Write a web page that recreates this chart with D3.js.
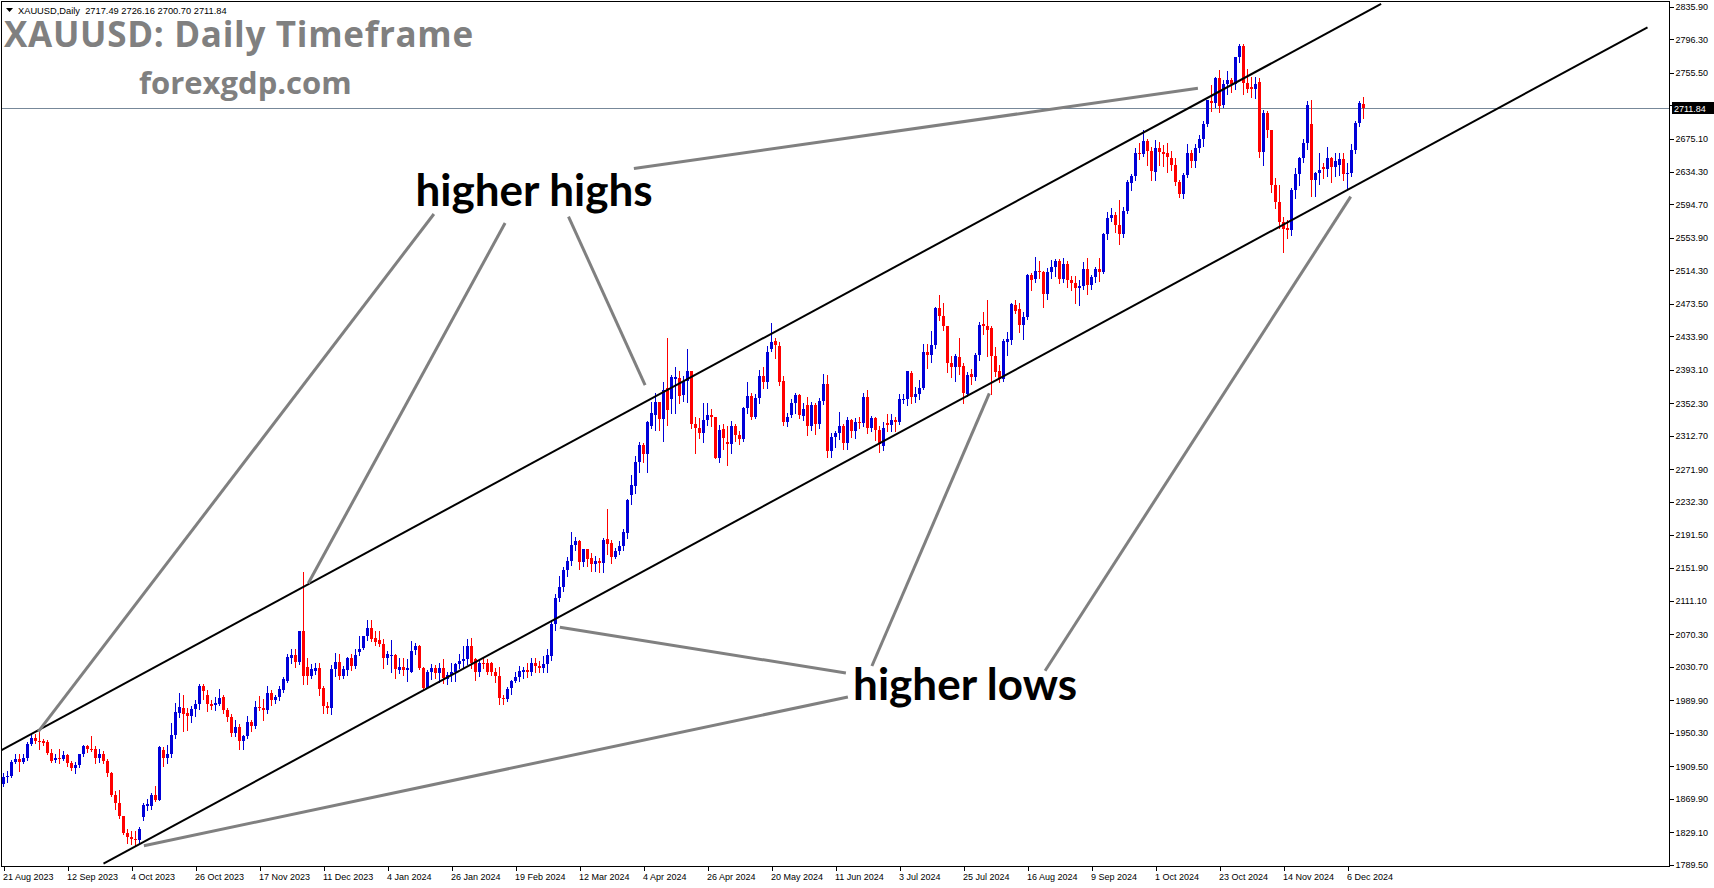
<!DOCTYPE html>
<html><head><meta charset="utf-8">
<script src="https://cdn.jsdelivr.net/npm/d3@7"></script>
<style>
html,body{margin:0;padding:0;background:#fff;overflow:hidden;}
svg{display:block;}
</style></head><body>
<svg id="chart" width="1714" height="888"></svg>
<script>
// ---- data (daily XAUUSD bars, 21 Aug 2023 .. 12 Dec 2024) ----
const opens = [
1888,1896,1898,1915,1918,1915,1920,1937,1944,1940,
1940,1939,1926,1917,1920,1919,1923,1913,1908,1911,
1924,1934,1931,1930,1920,1925,1916,1901,1875,1865,
1849,1828,1823,1821,1820,1848,1861,1861,1875,1869,
1929,1920,1924,1948,1975,1981,1974,1971,1979,1985,
2007,1996,1985,1984,1986,1994,1978,1970,1950,1958,
1940,1946,1964,1959,1982,1981,1978,1999,1990,1994,
2003,2014,2042,2045,2037,2075,2031,2020,2026,2029,
2005,1983,1980,2028,2037,2020,2027,2041,2032,2049,
2054,2068,2078,2066,2063,2059,2042,2044,2045,2027,
2031,2027,2025,2051,2056,2029,2005,2024,2030,2023,
2029,2016,2021,2024,2034,2038,2040,2056,2040,2024,
2035,2036,2035,2025,2020,1993,1992,2005,2014,2018,
2025,2027,2025,2036,2032,2030,2034,2044,2083,2115,
2128,2149,2160,2180,2184,2159,2174,2163,2156,2160,
2157,2187,2182,2165,2172,2178,2194,2240,2251,2281,
2301,2290,2325,2338,2354,2333,2371,2357,2382,2383,
2362,2380,2391,2327,2322,2316,2332,2338,2335,2286,
2321,2305,2302,2324,2314,2309,2347,2361,2336,2359,
2386,2378,2419,2428,2422,2380,2329,2338,2352,2362,
2337,2350,2325,2350,2327,2355,2376,2294,2311,2316,
2324,2304,2332,2319,2329,2328,2360,2322,2334,2320,
2300,2328,2326,2332,2329,2356,2357,2389,2360,2364,
2371,2415,2411,2423,2469,2459,2446,2401,2397,2409,
2398,2364,2388,2384,2411,2449,2446,2444,2410,2392,
2382,2427,2429,2472,2467,2448,2458,2509,2504,2514,
2512,2485,2512,2518,2526,2504,2522,2503,2499,2493,
2495,2516,2497,2506,2516,2512,2559,2578,2582,2570,
2559,2587,2621,2629,2657,2656,2672,2660,2634,2663,
2659,2657,2651,2643,2622,2608,2631,2657,2648,2663,
2674,2693,2721,2719,2749,2716,2742,2747,2742,2774,
2788,2743,2738,2736,2744,2659,2706,2685,2619,2598,
2573,2566,2563,2612,2632,2651,2670,2693,2625,2633,
2640,2638,2651,2640,2643,2650,2632,2633,2661,2694,
2717.49];
const highs = [
1901,1904,1917,1924,1924,1925,1939,1949,1949,1953,
1943,1942,1930,1924,1930,1928,1925,1916,1915,1925,
1936,1936,1947,1934,1931,1928,1918,1903,1879,1880,
1849,1833,1830,1831,1836,1865,1870,1877,1886,1934,
1933,1935,1962,1987,1999,1997,1981,1983,1990,2010,
2010,2002,1990,1994,2004,1997,1980,1973,1966,1961,
1948,1971,1966,1989,1995,1992,2007,2002,1997,2008,
2018,2047,2052,2052,2075,2146,2042,2034,2036,2036,
2008,1988,2033,2048,2046,2032,2043,2046,2053,2069,
2069,2088,2088,2074,2074,2065,2050,2064,2047,2041,
2042,2040,2062,2060,2058,2031,2027,2034,2033,2035,
2040,2025,2035,2035,2047,2056,2065,2066,2041,2040,
2043,2040,2037,2029,2031,1997,2006,2015,2024,2032,
2031,2035,2041,2041,2038,2044,2052,2088,2120,2141,
2152,2165,2195,2189,2185,2175,2175,2170,2166,2164,
2188,2223,2186,2176,2184,2199,2236,2265,2288,2305,
2304,2331,2354,2365,2354,2378,2432,2387,2397,2392,
2385,2418,2392,2335,2334,2352,2352,2345,2336,2326,
2327,2325,2331,2327,2318,2348,2378,2365,2363,2393,
2397,2422,2450,2432,2427,2385,2340,2358,2365,2363,
2353,2360,2354,2353,2359,2388,2387,2316,2318,2342,
2327,2335,2333,2334,2335,2365,2368,2337,2336,2324,
2330,2339,2339,2335,2364,2364,2392,2392,2372,2381,
2425,2424,2440,2470,2484,2475,2447,2410,2412,2432,
2401,2390,2394,2413,2451,2463,2478,2446,2421,2399,
2431,2439,2475,2478,2474,2464,2510,2511,2531,2526,
2514,2517,2527,2528,2528,2529,2526,2507,2507,2503,
2524,2529,2509,2518,2529,2560,2585,2590,2585,2600,
2592,2625,2632,2664,2670,2685,2674,2665,2673,2671,
2667,2670,2660,2651,2624,2633,2668,2661,2668,2680,
2697,2722,2741,2750,2759,2747,2758,2749,2774,2790,
2790,2760,2750,2750,2749,2710,2709,2686,2627,2619,
2580,2576,2615,2639,2652,2674,2721,2722,2634,2657,
2645,2665,2652,2657,2657,2657,2645,2668,2697,2721,
2726.16];
const lows = [
1885,1890,1896,1913,1904,1913,1917,1935,1938,1930,
1936,1925,1915,1915,1914,1917,1910,1905,1901,1909,
1922,1927,1928,1914,1915,1913,1898,1873,1857,1846,
1827,1816,1815,1813,1815,1844,1856,1857,1867,1868,
1910,1913,1921,1944,1970,1953,1954,1963,1971,1979,
1992,1977,1979,1978,1984,1975,1965,1946,1947,1931,
1931,1944,1953,1956,1978,1966,1975,1984,1987,1990,
2000,2012,2035,2031,2034,2010,2010,2017,2022,1996,
1975,1975,1973,2020,2016,2017,2021,2027,2030,2045,
2052,2064,2062,2058,2056,2030,2034,2024,2017,2023,
2021,2014,2025,2047,2028,2002,2005,2016,2017,2012,
2011,2010,2013,2013,2029,2030,2034,2030,2015,2020,
2029,2022,2021,2012,1986,1985,1989,1998,2012,2013,
2017,2019,2021,2025,2025,2024,2025,2039,2076,2111,
2123,2142,2155,2173,2150,2154,2154,2148,2148,2146,
2146,2168,2157,2163,2169,2173,2188,2230,2243,2268,
2281,2268,2322,2320,2320,2306,2326,2340,2340,2353,
2355,2354,2322,2291,2310,2305,2326,2324,2285,2281,
2296,2277,2291,2306,2303,2306,2340,2333,2334,2353,
2371,2371,2416,2407,2374,2326,2324,2335,2340,2334,
2332,2314,2320,2315,2322,2351,2287,2287,2299,2309,
2296,2297,2311,2310,2322,2325,2316,2318,2308,2293,
2295,2319,2318,2319,2327,2353,2350,2353,2354,2358,
2370,2395,2402,2420,2454,2441,2390,2384,2379,2388,
2353,2361,2376,2381,2405,2437,2410,2364,2386,2378,
2380,2411,2424,2462,2439,2431,2455,2490,2500,2505,
2470,2480,2505,2507,2499,2500,2494,2491,2474,2472,
2492,2485,2492,2500,2501,2511,2553,2574,2561,2546,
2555,2584,2612,2625,2650,2654,2643,2625,2625,2643,
2642,2634,2637,2618,2604,2603,2628,2641,2640,2659,
2666,2690,2709,2714,2708,2713,2729,2732,2735,2769,
2730,2732,2726,2725,2652,2643,2677,2610,2590,2566,
2537,2554,2558,2602,2618,2647,2662,2605,2605,2620,
2627,2630,2622,2630,2631,2624,2614,2630,2658,2691,
2700.70];
const closes = [
1896,1898,1915,1918,1915,1920,1937,1944,1940,1939,
1938,1926,1916,1920,1919,1923,1913,1908,1911,1924,
1934,1931,1930,1920,1925,1916,1901,1875,1865,1849,
1828,1823,1821,1820,1833,1862,1863,1874,1869,1933,
1920,1924,1948,1976,1982,1973,1971,1979,1986,2007,
2001,1985,1983,1987,1993,1978,1970,1950,1958,1940,
1946,1964,1959,1982,1981,1978,1999,1990,1994,2004,
2016,2043,2045,2037,2074,2020,2020,2028,2029,2004,
1983,1980,2028,2037,2020,2028,2041,2032,2045,2053,
2068,2078,2065,2061,2059,2041,2046,2045,2028,2031,
2027,2029,2050,2056,2029,2005,2024,2030,2023,2029,
2017,2021,2025,2034,2038,2040,2056,2035,2024,2035,
2034,2024,2025,2020,1993,1992,2004,2014,2019,2026,
2027,2025,2036,2032,2030,2034,2045,2083,2115,2128,
2149,2160,2179,2184,2159,2174,2162,2156,2160,2157,
2186,2181,2165,2172,2178,2195,2234,2252,2281,2301,
2290,2330,2340,2354,2333,2369,2344,2384,2384,2361,
2380,2392,2327,2322,2316,2332,2338,2335,2286,2320,
2310,2302,2324,2314,2309,2347,2361,2336,2359,2386,
2378,2415,2427,2423,2378,2329,2335,2352,2362,2338,
2345,2325,2350,2327,2355,2376,2294,2311,2316,2324,
2304,2332,2319,2329,2328,2360,2322,2334,2320,2303,
2322,2326,2332,2329,2357,2357,2391,2360,2364,2371,
2415,2411,2423,2469,2459,2446,2401,2396,2410,2397,
2365,2387,2384,2411,2448,2446,2442,2410,2390,2382,
2428,2431,2473,2465,2448,2458,2509,2503,2514,2512,
2485,2512,2518,2526,2504,2522,2503,2499,2493,2495,
2516,2497,2506,2516,2512,2559,2578,2582,2570,2559,
2587,2622,2629,2657,2656,2672,2660,2635,2663,2659,
2656,2653,2643,2622,2608,2631,2657,2648,2663,2674,
2693,2722,2719,2749,2715,2742,2747,2742,2774,2788,
2743,2736,2736,2742,2659,2706,2685,2619,2598,2573,
2565,2563,2612,2632,2651,2670,2716,2625,2633,2637,
2638,2651,2640,2648,2650,2632,2633,2661,2694,2718,
2711.84];

// time axis: bar index of each label and its text
const xTickIndex = [0,16,32,48,64,80,96,112,128,144,160,176,192,208,224,240,256,272,288,304,320,336];
const xTickLabels = ["21 Aug 2023","12 Sep 2023","4 Oct 2023","26 Oct 2023","17 Nov 2023","11 Dec 2023",
  "4 Jan 2024","26 Jan 2024","19 Feb 2024","12 Mar 2024","4 Apr 2024","26 Apr 2024","20 May 2024",
  "11 Jun 2024","3 Jul 2024","25 Jul 2024","16 Aug 2024","9 Sep 2024","1 Oct 2024","23 Oct 2024",
  "14 Nov 2024","6 Dec 2024"];
// price axis
const yTickValues = [2835.90,2796.30,2755.50,2715.90,2675.10,2634.30,2594.70,2553.90,2514.30,2473.50,
  2433.90,2393.10,2352.30,2312.70,2271.90,2232.30,2191.50,2151.90,2111.10,2070.30,2030.70,1989.90,
  1950.30,1909.50,1869.90,1829.10,1789.50];
const priceDomain = [1789.50, 2835.90];

// channel trend lines: [bar index, price]
const channelUpper = [[-0.9, 1928.2], [344.4, 2839.2]];
const channelLower = [[25.0, 1790.8], [411.0, 2810.8]];
// grey pointer lines from labels to swing points: [bar index, price]
const pointerLines = [
  [[107.6, 2583.1], [8.7, 1951.7]],
  [[125.4, 2572.1], [76.2, 2132.7]],
  [[141.25, 2580.0], [160.4, 2374.5]],
  [[157.6, 2638.6], [298.6, 2736.4]],
  [[211.1, 1994.0], [35.1, 1812.7]],
  [[210.6, 2023.3], [139.1, 2079.0]],
  [[217.1, 2031.8], [246.45, 2364.4]],
  [[260.4, 2026.1], [336.8, 2604.2]]
];
const annotationTexts = ["higher highs", "higher lows"];
const annotationAnchors = [[103.0, 2593.2], [212.4, 1990.4]];

// ---- drawing ----
const W = 1714, H = 888;
const plotLeft = 2, plotRight = 1669, plotTop = 2, plotBottom = 866;
const N = closes.length;
const svg = d3.select("#chart");

const x = d3.scaleLinear().domain([0, N - 1]).range([3.5, 3.5 + 4 * (N - 1)]);
const y = d3.scaleLinear().domain(priceDomain).range([864.7, 6.7]);

svg.append("rect").attr("width", W).attr("height", H).attr("fill", "#fff");

svg.append("defs").append("clipPath").attr("id", "plotclip")
  .append("rect").attr("x", plotLeft).attr("y", plotTop)
  .attr("width", plotRight - plotLeft).attr("height", plotBottom - plotTop);

const plot = svg.append("g").attr("clip-path", "url(#plotclip)");

// current price line
const last = N - 1;
plot.append("line")
  .attr("x1", plotLeft).attr("x2", plotRight)
  .attr("y1", Math.round(y(closes[last])) + 0.5).attr("y2", Math.round(y(closes[last])) + 0.5)
  .attr("stroke", "#778899").attr("stroke-width", 1);

// candles
const bars = d3.range(N);
const upCol = "#0000d8", dnCol = "#ff0000";
const colOf = i => closes[i] >= opens[i] ? upCol : dnCol;
const cg = plot.append("g").attr("shape-rendering", "crispEdges");
cg.selectAll("line.wick").data(bars).join("line")
  .attr("class", "wick")
  .attr("x1", i => x(i)).attr("x2", i => x(i))
  .attr("y1", i => Math.round(y(highs[i]))).attr("y2", i => Math.round(y(lows[i])) + 1)
  .attr("stroke", colOf).attr("stroke-width", 1);
cg.selectAll("rect.body").data(bars).join("rect")
  .attr("class", "body")
  .attr("x", i => x(i) - 1.5)
  .attr("width", 3)
  .attr("y", i => Math.round(y(Math.max(opens[i], closes[i]))))
  .attr("height", i => Math.max(1, Math.round(y(Math.min(opens[i], closes[i]))) - Math.round(y(Math.max(opens[i], closes[i])))))
  .attr("fill", colOf);

// channel lines
const lineGen = d3.line().x(d => x(d[0])).y(d => y(d[1]));
plot.selectAll("path.channel").data([channelUpper, channelLower]).join("path")
  .attr("class", "channel").attr("d", lineGen)
  .attr("fill", "none").attr("stroke", "#000").attr("stroke-width", 2);

// pointer lines
plot.selectAll("path.pointer").data(pointerLines).join("path")
  .attr("class", "pointer").attr("d", lineGen)
  .attr("fill", "none").attr("stroke", "#808080").attr("stroke-width", 3);

// annotation texts
plot.selectAll("text.annot").data(annotationTexts).join("text")
  .attr("class", "annot")
  .attr("x", (d, k) => x(annotationAnchors[k][0]))
  .attr("y", (d, k) => y(annotationAnchors[k][1]))
  .attr("font-family", "Lato, 'Open Sans', sans-serif")
  .attr("font-weight", 700).attr("font-size", 44).attr("fill", "#000")
  .text(d => d);

// frame
svg.append("rect").attr("x", plotLeft - 0.5).attr("y", plotTop - 0.5)
  .attr("width", plotRight - plotLeft + 0.5).attr("height", plotBottom - plotTop + 1)
  .attr("fill", "none").attr("stroke", "#000").attr("stroke-width", 1)
  .attr("shape-rendering", "crispEdges");

// price axis
const yAxis = svg.append("g").attr("transform", `translate(${plotRight + 0.5},0)`)
  .call(d3.axisRight(y).tickValues(yTickValues).tickSize(4).tickSizeOuter(0).tickPadding(2)
    .tickFormat(d3.format(".2f")));
yAxis.select(".domain").remove();
yAxis.selectAll("line").attr("stroke", "#000").attr("shape-rendering", "crispEdges");
yAxis.selectAll("text").attr("font-family", "'Liberation Sans', Arial, sans-serif")
  .attr("font-size", 9).attr("fill", "#000");

// time axis
const xAxis = svg.append("g").attr("transform", `translate(0,${plotBottom + 0.5})`)
  .call(d3.axisBottom(x).tickValues(xTickIndex).tickSize(4).tickSizeOuter(0).tickPadding(3)
    .tickFormat((d, k) => xTickLabels[k]));
xAxis.select(".domain").remove();
xAxis.selectAll("line").attr("stroke", "#000").attr("shape-rendering", "crispEdges");
xAxis.selectAll("text").attr("font-family", "'Liberation Sans', Arial, sans-serif")
  .attr("font-size", 9).attr("fill", "#000").attr("text-anchor", "start").attr("x", -1);

// current price label
const cy = Math.round(y(closes[last])) + 0.5;
svg.append("rect").attr("x", plotRight + 3).attr("y", cy - 6.5).attr("width", W - plotRight - 3).attr("height", 12)
  .attr("fill", "#000");
svg.append("text").attr("x", plotRight + 5).attr("y", cy).attr("dy", "0.34em")
  .attr("font-family", "'Liberation Sans', Arial, sans-serif").attr("font-size", 9).attr("fill", "#fff")
  .text(d3.format(".2f")(closes[last]));

// header info
svg.append("path").attr("d", "M6,8 L13,8 L9.5,12 Z").attr("fill", "#000");
svg.append("text").attr("x", 18).attr("y", 13.5)
  .attr("font-family", "'Liberation Sans', Arial, sans-serif").attr("font-size", 9.3).attr("fill", "#000")
  .attr("xml:space", "preserve")
  .text(`XAUUSD,Daily  ${d3.format(".2f")(opens[last])} ${d3.format(".2f")(highs[last])} ${d3.format(".2f")(lows[last])} ${d3.format(".2f")(closes[last])}`);

// watermark titles
svg.append("text").attr("x", 4).attr("y", 47)
  .attr("font-family", "'Open Sans', sans-serif").attr("font-weight", 700).attr("font-size", 35)
  .attr("letter-spacing", 0.7)
  .attr("fill", "#808080").text("XAUUSD: Daily Timeframe");
svg.append("text").attr("x", 139).attr("y", 94)
  .attr("font-family", "'Open Sans', sans-serif").attr("font-weight", 700).attr("font-size", 31)
  .attr("fill", "#808080").text("forexgdp.com");
</script>
</body></html>
